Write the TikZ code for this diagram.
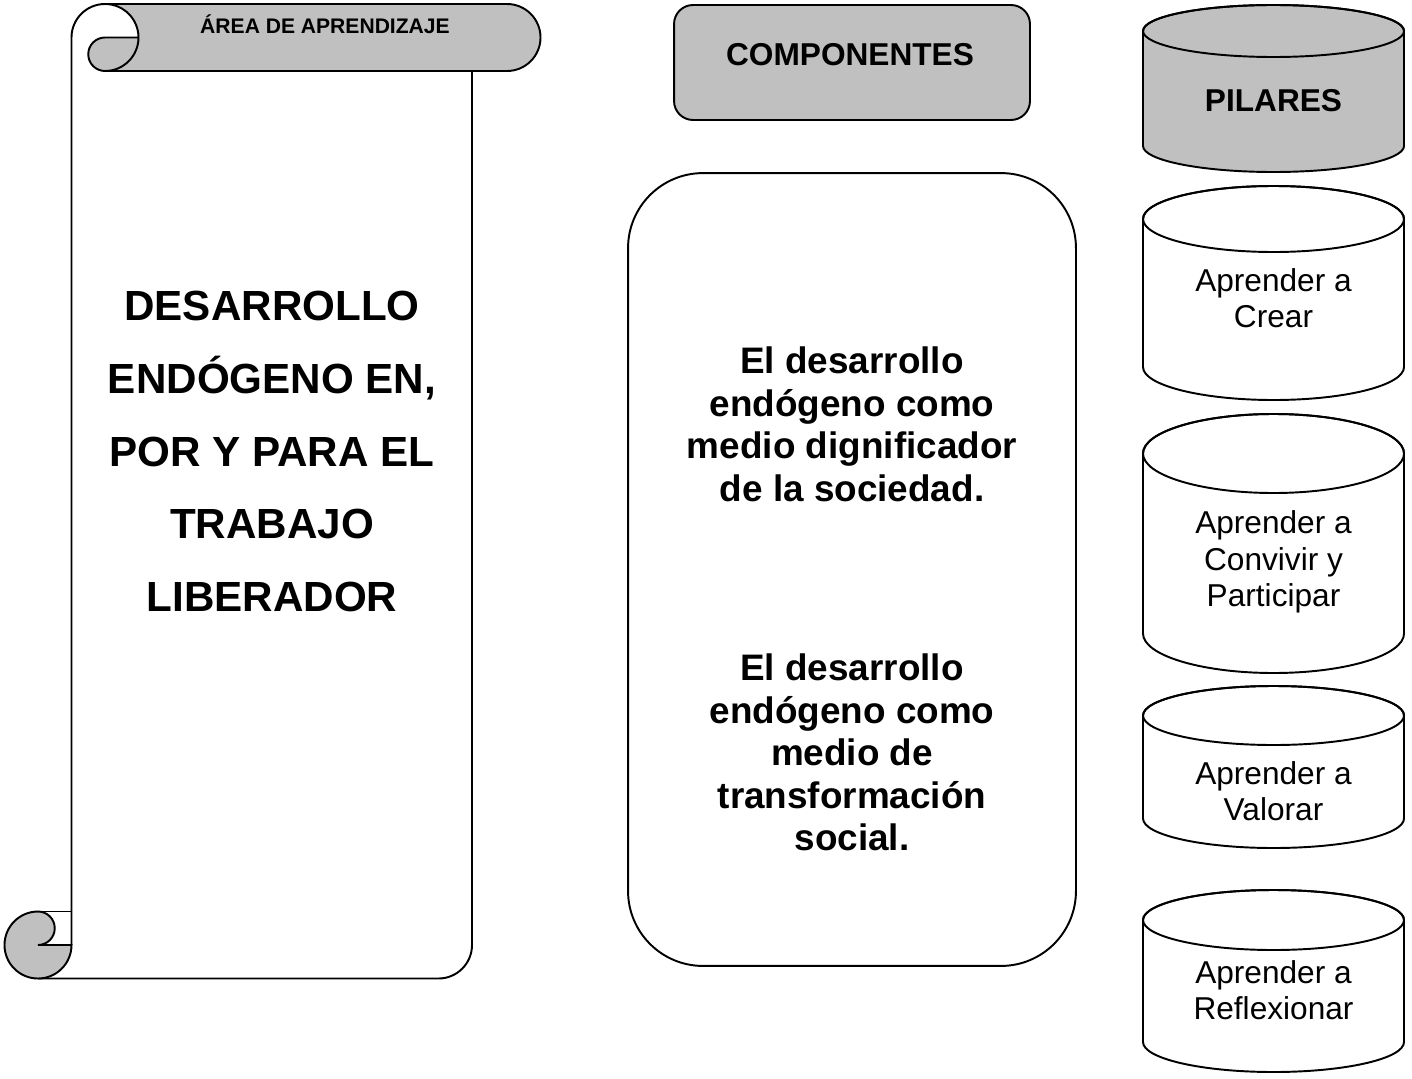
\documentclass[tikz,border=0pt]{standalone}
\usepackage{fontspec}
\setmainfont{Liberation Sans}
\usetikzlibrary{positioning}
\definecolor{gris}{HTML}{C0C0C0}
\tikzset{
  trazo/.style={draw=black, line width=1.1pt},
  caja/.style={trazo, rectangle, rounded corners=#1},
  enorme/.style={font=\bfseries\fontsize{24}{41.5}\selectfont, align=center},
  medio/.style={font=\bfseries\fontsize{21}{24.2}\selectfont, align=center},
  titulo/.style={font=\bfseries\fontsize{18}{21}\selectfont},
  pequeno/.style={font=\bfseries\fontsize{12}{14}\selectfont},
  pilartexto/.style={font=\fontsize{18}{20.7}\selectfont, align=center}
}
% cilindro: arriba, abajo, radio vertical, relleno
\newcommand{\pilar}[4]{\filldraw[trazo, fill=#4] (1143,#1+#3) -- (1143,#2-#3)
					arc[start angle=180, end angle=0, x radius=130.5, y radius=#3]
					-- (1404,#1+#3)
					arc[start angle=0, end angle=-180, x radius=130.5, y radius=#3] -- cycle;
					\draw[trazo] (1273.5,#1+#3) ellipse [x radius=130.5, y radius=#3];}

\begin{document}
\begin{tikzpicture}[x=0.02cm, y=-0.02cm]
					\useasboundingbox (0,0) rectangle (1412,1078);

					% pergamino
					\fill[gris] (105,4) -- (507,4) arc[start angle=-90, end angle=90, radius=33.5]
						-- (105,71) arc[start angle=90, end angle=270, radius=16.75]
						-- (138.5,37.5) arc[start angle=0, end angle=-90, radius=33.5] -- cycle;
					\draw[trazo] (71.5,945) -- (71.5,37.5) arc[start angle=180, end angle=270, radius=33.5]
						-- (507,4) arc[start angle=-90, end angle=90, radius=33.5]
						-- (105,71) arc[start angle=90, end angle=270, radius=16.75] -- (138.5,37.5);
					\draw[trazo] (105,4) arc[start angle=-90, end angle=90, radius=33.5];
					\draw[trazo] (472,71) -- (472,945) arc[start angle=0, end angle=90, radius=33.5] -- (38,978.5);
					\filldraw[trazo, fill=gris] (38,911.5) arc[start angle=-90, end angle=-360, radius=33.5]
						-- (38,945) arc[start angle=90, end angle=-90, radius=16.75] -- cycle;
					\draw[trazo] (38,911.5) -- (71.5,911.5);

					\node[pequeno, anchor=base] (area) at (325,33.5) {ÁREA DE APRENDIZAJE};
					\node[enorme] (tema) at (272,451.5) {DESARROLLO\\ENDÓGENO EN,\\POR Y PARA EL\\TRABAJO\\LIBERADOR};

					% componentes
					\node[caja=0.38cm, fill=gris, minimum width=7.12cm, minimum height=2.3cm] (cajacomp) at (852,62.5) {};
					\node[titulo] (componentes) at (850,55) {COMPONENTES};
					\node[caja=1.5cm, minimum width=8.96cm, minimum height=15.86cm] (marco) at (852,569.5) {};
					\node[medio] (comp1) at (852,424.5) {El desarrollo\\endógeno como\\medio dignificador\\de la sociedad.};
					\node[medio] (comp2) at (852,752.5) {El desarrollo\\endógeno como\\medio de\\transformación\\social.};

					% pilares
					\pilar{5}{172}{26}{gris}
					\pilar{186}{400}{33}{white}
					\pilar{414}{673}{39.5}{white}
					\pilar{686}{848}{29.5}{white}
					\pilar{890}{1072}{30}{white}
					\node[titulo] (pilares) at (1273.5,101) {PILARES};
					\node[pilartexto] (crear) at (1273.5,298) {Aprender a\\Crear};
					\node[pilartexto] (convivir) at (1273.5,562) {Aprender a\\Convivir y\\Participar};
					\node[pilartexto] (valorar) at (1273.5,791) {Aprender a\\Valorar};
					\node[pilartexto] (reflexionar) at (1273.5,990) {Aprender a\\Reflexionar};

				\end{tikzpicture}
\end{document}
